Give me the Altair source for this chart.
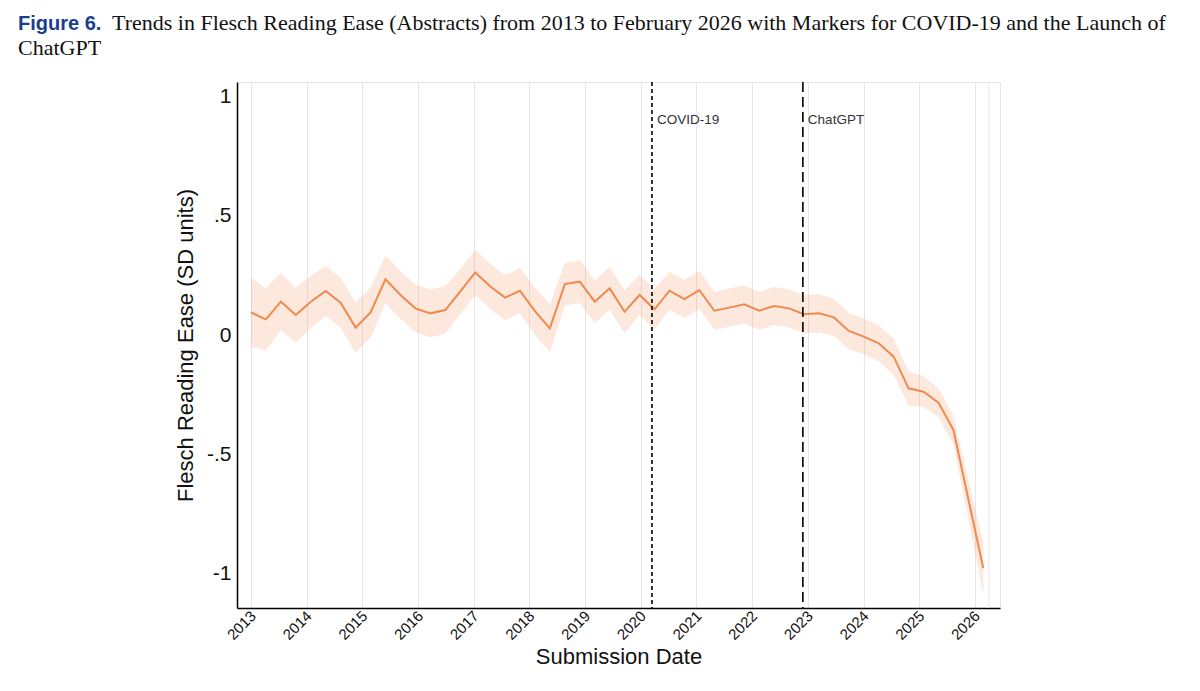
import altair as alt
import pandas as pd

# ---- data ----
dates = [2013.000, 2013.268, 2013.537, 2013.805, 2014.073, 2014.342, 2014.610, 2014.879,
         2015.147, 2015.415, 2015.684, 2015.952, 2016.220, 2016.489, 2016.757, 2017.026,
         2017.294, 2017.562, 2017.831, 2018.099, 2018.367, 2018.636, 2018.904, 2019.173,
         2019.441, 2019.709, 2019.978, 2020.246, 2020.514, 2020.783, 2021.051, 2021.320,
         2021.588, 2021.856, 2022.125, 2022.393, 2022.661, 2022.930, 2023.198, 2023.467,
         2023.735, 2024.003, 2024.272, 2024.540, 2024.808, 2025.077, 2025.345, 2025.614,
         2025.882, 2026.150]
fre = [0.095, 0.066, 0.140, 0.084, 0.140, 0.185, 0.136, 0.031, 0.095, 0.234,
       0.168, 0.112, 0.091, 0.105, 0.182, 0.263, 0.205, 0.157, 0.186, 0.100,
       0.028, 0.214, 0.224, 0.140, 0.196, 0.098, 0.168, 0.108, 0.186, 0.151,
       0.189, 0.102, 0.115, 0.129, 0.102, 0.122, 0.112, 0.087, 0.091, 0.074,
       0.017, -0.007, -0.035, -0.091, -0.224, -0.238, -0.284, -0.399, -0.690, -0.980]
ci_half = [0.145, 0.13, 0.12, 0.115, 0.11, 0.105, 0.105, 0.105, 0.105, 0.10,
           0.10, 0.10, 0.10, 0.10, 0.095, 0.095, 0.095, 0.095, 0.095, 0.10,
           0.10, 0.09, 0.09, 0.09, 0.09, 0.09, 0.085, 0.085, 0.08, 0.08,
           0.08, 0.08, 0.08, 0.08, 0.08, 0.08, 0.08, 0.08, 0.08, 0.078,
           0.077, 0.075, 0.075, 0.075, 0.073, 0.065, 0.06, 0.06, 0.08, 0.11]

year_ticks = list(range(2013, 2027))
extra_grid = [2026.25]
y_ticks = [-1, -0.5, 0, 0.5, 1]
y_tick_labels = ["-1", "-.5", "0", ".5", "1"]

events = ["COVID-19", "ChatGPT"]
event_dates = [2020.2, 2022.91]

title_fig = "Figure 6."
title_line1 = ("Trends in Flesch Reading Ease (Abstracts) from 2013 to February 2026 "
               "with Markers for COVID-19 and the Launch of")
title_line2 = "ChatGPT"
x_title = "Submission Date"
y_title = "Flesch Reading Ease (SD units)"

df = pd.DataFrame({
    "date": dates,
    "fre": fre,
    "lo": [v - h for v, h in zip(fre, ci_half)],
    "hi": [v + h for v, h in zip(fre, ci_half)],
})
ev = pd.DataFrame({"event": events, "date": event_dates})

LINE = "#EF8A4F"
SANS = "Liberation Sans"
SERIF = "Liberation Serif"

label_expr = " : ".join(
    f"datum.value == {v} ? '{l}'" for v, l in zip(y_ticks, y_tick_labels)
) + " : datum.label"

xscale = alt.Scale(domain=[2012.749, 2026.45], nice=False, zero=False)
yscale = alt.Scale(domain=[-1.147, 1.063], nice=False, zero=False)

xaxis = alt.Axis(values=year_ticks, format="d", labelAngle=-45, labelAlign="right",
                 labelBaseline="middle", labelFontSize=15, labelFont=SANS,
                 labelColor="#111", labelPadding=5, labelOffset=2, ticks=False,
                 grid=True, gridColor="#e6e6e6", gridWidth=1, domainColor="#000",
                 domainWidth=1.5, title=x_title, titleFont=SANS, titleFontSize=22,
                 titleFontWeight="normal", titleColor="#111", titlePadding=4,
                 labelOverlap=False)
yaxis = alt.Axis(values=y_ticks, labelExpr=label_expr, labelFontSize=21,
                 labelFont=SANS, labelColor="#111", labelPadding=6, ticks=False,
                 grid=False, domainColor="#000", domainWidth=1.5, title=y_title,
                 titleFont=SANS, titleFontSize=22, titleFontWeight="normal",
                 titleColor="#111", titlePadding=9)

base = alt.Chart(df)

band = base.mark_area(color=LINE, opacity=0.2).encode(
    x=alt.X("date:Q", scale=xscale, axis=xaxis),
    y=alt.Y("lo:Q", scale=yscale, axis=yaxis),
    y2="hi:Q",
)
line = base.mark_line(color=LINE, strokeWidth=2).encode(
    x=alt.X("date:Q", scale=xscale),
    y=alt.Y("fre:Q", scale=yscale),
)

grid_extra = alt.Chart(pd.DataFrame({"g": extra_grid})).mark_rule(
    color="#e6e6e6", strokeWidth=1).encode(x=alt.X("g:Q", scale=xscale))

covid = alt.Chart(ev[ev.event == "COVID-19"]).mark_rule(
    color="#000", strokeWidth=1.6, strokeDash=[4, 3]).encode(
    x=alt.X("date:Q", scale=xscale))
chat = alt.Chart(ev[ev.event == "ChatGPT"]).mark_rule(
    color="#000", strokeWidth=1.6, strokeDash=[10, 5]).encode(
    x=alt.X("date:Q", scale=xscale))
ev_labels = alt.Chart(ev).mark_text(
    align="left", baseline="middle", dx=5, fontSize=13.5, font=SANS, color="#333"
).encode(x=alt.X("date:Q", scale=xscale), y=alt.value(38), text="event:N")

t1 = alt.Chart(pd.DataFrame({"t": [title_fig]})).mark_text(
    align="left", baseline="alphabetic", font=SANS, fontWeight="bold",
    fontSize=20, color="#1D3C8C"
).encode(x=alt.value(-219), y=alt.value(-52), text="t:N")
t2 = alt.Chart(pd.DataFrame({"t": [title_line1]})).mark_text(
    align="left", baseline="alphabetic", font=SERIF, fontSize=22.0, color="#111"
).encode(x=alt.value(-125), y=alt.value(-52), text="t:N")
t3 = alt.Chart(pd.DataFrame({"t": [title_line2]})).mark_text(
    align="left", baseline="alphabetic", font=SERIF, fontSize=22.0, color="#111"
).encode(x=alt.value(-219), y=alt.value(-27), text="t:N")

chart = alt.layer(grid_extra, band, line, covid, chat, ev_labels, t1, t2, t3).properties(
    width=763, height=526,
    autosize=alt.AutoSizeParams(type="none"),
    padding={"left": 229, "top": 74, "right": 190, "bottom": 70},
    background="white",
).configure_view(stroke="#e6e6e6", strokeWidth=1)

chart.save("out.html", embed_options={"renderer": "svg", "actions": False})
